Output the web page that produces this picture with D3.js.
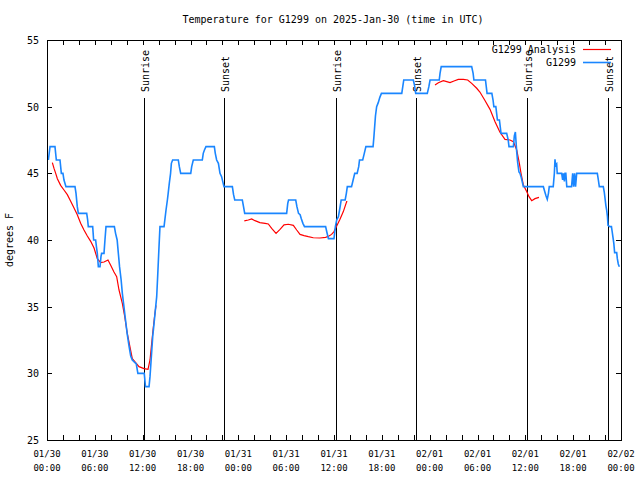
<!DOCTYPE html>
<html>
<head>
<meta charset="utf-8">
<script src="https://cdn.jsdelivr.net/npm/d3@7"></script>
<style>
  html, body { margin: 0; padding: 0; background: #fff; }
  svg { display: block; }
  text { font-family: "DejaVu Sans Mono", monospace; fill: #000; }
</style>
</head>
<body>
<svg id="chart" width="640" height="480"></svg>
<script>
// ---------------- data (hours since 2025-01-30 00:00 UTC, degrees F) ----------------
const titleText = "Temperature for G1299 on 2025-Jan-30 (time in UTC)";
const yLabel = "degrees F";
const seriesNames = ["G1299 Analysis", "G1299"];
const yTicks = [25, 30, 35, 40, 45, 50, 55];
const xTickHours = [0, 6, 12, 18, 24, 30, 36, 42, 48, 54, 60, 66, 72];
const sunEvents = [
  ["Sunrise", 12.17], ["Sunset", 22.2], ["Sunrise", 36.25],
  ["Sunset", 46.29], ["Sunrise", 60.2], ["Sunset", 70.37]
];

const observed = [
  [0.17,46],[0.38,47],[1.0,47],[1.17,46],[1.63,46],[1.8,45],[2.0,45],[2.13,44.5],[2.38,44],[3.51,44],
  [3.64,43.5],[3.8,42.5],[3.93,42],[4.98,42],[5.1,41.5],[5.18,41],[5.73,41],[5.85,40],[6.1,40],[6.2,39.5],
  [6.31,39],[6.44,38],[6.65,38],[6.77,38.75],[6.85,39],[7.15,39],[7.27,40],[7.4,41],[8.45,41],[8.6,40.5],
  [8.8,40],[8.95,39],[9.1,38],[9.3,37],[9.45,36],[9.65,35],[9.85,34],[10.05,33],[10.3,32],[10.5,31.3],
  [10.7,31],[11.2,30.7],[11.4,30],[12.2,30],[12.35,29],[12.8,29],[12.92,29.75],[13.09,31.25],[13.26,32.75],
  [13.43,33.75],[13.55,34.5],[13.76,35.75],[13.9,37.5],[14.05,39.5],[14.17,41],[14.68,41],[14.93,42.25],
  [15.1,43],[15.2,43.5],[15.34,44.25],[15.5,45],[15.6,45.75],[15.76,46],[16.47,46],[16.6,45.5],[16.77,45],
  [18.03,45],[18.15,45.5],[18.35,46],[19.48,46],[19.6,46.5],[19.75,46.75],[19.94,47],[20.99,47],[21.11,46.5],
  [21.28,46],[21.5,45.75],[21.7,45],[21.9,44.75],[22.04,44.4],[22.2,44],[23.25,44],[23.4,43.4],[23.55,43],
  [24.5,43],[24.65,42.5],[24.8,42],[30.06,42],[30.2,42.75],[30.3,43],[31.2,43],[31.35,42.5],[31.55,42],
  [31.75,41.9],[31.9,41.6],[32.1,41.25],[32.3,41],[34.95,41],[35.1,40.6],[35.3,40.1],[36.0,40.1],[36.17,41],
  [36.34,41.5],[36.55,41.75],[36.7,42.25],[36.9,43],[37.4,43],[37.55,43.5],[37.67,44],[38.2,44],[38.4,44.5],
  [38.6,45],[38.9,45],[39.1,45.5],[39.2,46],[39.6,46],[39.8,46.5],[40.0,47],[40.9,47],[41.0,47.7],[41.1,48.5],
  [41.2,49.3],[41.35,50],[41.55,50.3],[41.75,50.7],[41.95,51],[44.5,51],[44.65,51.6],[44.75,52],[45.95,52],
  [46.1,51.6],[46.25,51],[47.7,51],[47.9,51.5],[48.05,52],[49.2,52],[49.3,52.5],[49.45,53],[53.27,53],
  [53.45,52.5],[53.55,52],[55.0,52],[55.1,51.5],[55.2,51],[55.8,51],[55.95,50.5],[56.05,50],[56.3,50],
  [56.4,49.5],[56.5,49],[56.75,49],[56.85,48.5],[56.95,48],[57.66,48],[57.85,47.5],[57.95,47],[58.5,47],
  [58.62,47.8],[58.75,48.1],[58.83,47.4],[58.92,46.6],[59.04,45.8],[59.2,45.1],[59.33,45],[59.46,44.75],
  [59.6,44.4],[59.75,44],[62.26,44],[62.45,43.6],[62.6,43.3],[62.75,43.05],[62.9,43.5],[63.0,44],[63.5,44],
  [63.64,45],[63.72,46.05],[63.8,45.6],[63.93,45.7],[64.0,45],[64.56,45],[64.68,44.5],[64.77,45],[64.9,44.4],
  [64.98,45],[65.08,45],[65.2,44],[65.8,44],[65.94,45],[66.06,44],[66.18,45],[66.3,44],[66.44,45],[69.03,45],
  [69.16,44.5],[69.28,44],[69.78,44],[69.9,43.6],[70.0,43.1],[70.1,42.6],[70.2,42.25],[70.3,41.75],[70.37,41.1],
  [70.6,41],[70.8,41],[70.9,40.6],[70.98,40.25],[71.1,39.75],[71.2,39.05],[71.46,39.05],[71.54,38.6],
  [71.66,38.2],[71.79,38.0]
];

const analysisA = [
  [0.67,45.8],[0.88,45.37],[1.09,45.0],[1.3,44.6],[1.71,44.1],[2.13,43.75],[2.55,43.4],[2.97,42.9],
  [3.39,42.4],[3.8,41.9],[4.22,41.25],[4.64,40.75],[5.06,40.3],[5.48,39.9],[5.9,39.4],[6.31,38.6],
  [6.73,38.3],[7.15,38.35],[7.65,38.5],[7.99,38.1],[8.4,37.6],[8.74,37.25],[9.03,36.25],[9.45,35.25],
  [9.75,34.25],[10.07,33.0],[10.4,32.0],[10.7,31.1],[11.12,30.8],[11.54,30.5],[12.17,30.35],[12.67,30.3],
  [12.92,31.0],[13.09,32.0],[13.3,33.25],[13.5,34.3],[13.67,35.1]
];
const analysisB = [
  [24.75,41.43],[25.25,41.5],[25.67,41.58],[26.09,41.45],[26.7,41.3],[27.35,41.25],[27.76,41.2],
  [28.18,40.87],[28.73,40.5],[29.23,40.8],[29.73,41.13],[30.27,41.18],[30.9,41.1],[31.32,40.75],
  [31.74,40.42],[32.24,40.33],[32.78,40.25],[33.4,40.17],[34.24,40.15],[34.95,40.2],[35.37,40.3],
  [35.7,40.42],[36.0,40.63],[36.34,41.05],[36.75,41.55],[37.17,42.13],[37.59,42.88],[37.67,42.88]
];
const analysisC = [
  [48.67,51.63],[49.09,51.8],[49.71,51.95],[50.14,51.88],[50.55,51.8],[51.05,51.93],[51.59,52.05],
  [52.22,52.05],[52.77,52.0],[53.27,51.75],[53.9,51.38],[54.3,51.1],[54.9,50.5],[55.57,49.8],
  [56.2,48.87],[56.8,48.1],[57.45,47.55],[58.07,47.5],[58.5,47.38],[58.92,46.75],[59.25,45.75],
  [59.46,45.0],[59.75,44.13],[60.17,43.63],[60.46,43.25],[60.8,42.95],[61.21,43.1],[61.71,43.2]
];
const analysisSegments = [analysisA, analysisB, analysisC];

// ---------------- layout ----------------
const W = 640, H = 480;
const m = { left: 47, right: 19, top: 40, bottom: 40 };
const pw = W - m.left - m.right, ph = H - m.top - m.bottom;
const start = Date.UTC(2025, 0, 30, 0, 0);
const hToDate = h => new Date(start + h * 3600 * 1000);

const svg = d3.select("#chart");
const x = d3.scaleUtc().domain([hToDate(0), hToDate(72)]).range([m.left, m.left + pw]);
const y = d3.scaleLinear().domain([25, 55]).range([m.top + ph, m.top]);

const blue = "#1a86ff", red = "#ff0000";

// title
svg.append("text").attr("x", 333).attr("y", 23).attr("text-anchor", "middle")
  .style("font-size", "10px").text(titleText);

// y label
svg.append("text").attr("transform", `translate(13,${m.top + ph / 2}) rotate(-90)`)
  .attr("text-anchor", "middle").style("font-size", "10px").text(yLabel);

// ticks (every 2 h minor, labels every 6 h)
const minorHours = d3.range(0, 73, 2);
const tickG = svg.append("g").attr("stroke", "#000").attr("stroke-width", 1).attr("shape-rendering", "crispEdges");
minorHours.forEach(h => {
  const xx = Math.round(x(hToDate(h))) + 0.5;
  tickG.append("line").attr("x1", xx).attr("x2", xx).attr("y1", m.top + ph).attr("y2", m.top + ph - 5);
  tickG.append("line").attr("x1", xx).attr("x2", xx).attr("y1", m.top).attr("y2", m.top + 5);
});
yTicks.forEach(v => {
  const yy = Math.round(y(v)) + 0.5;
  tickG.append("line").attr("x1", m.left).attr("x2", m.left + 5).attr("y1", yy).attr("y2", yy);
  tickG.append("line").attr("x1", m.left + pw).attr("x2", m.left + pw - 5).attr("y1", yy).attr("y2", yy);
  svg.append("text").attr("x", 39).attr("y", y(v) + 4).attr("text-anchor", "end")
    .style("font-size", "10px").text(v);
});
const fmtD = d3.utcFormat("%m/%d"), fmtT = d3.utcFormat("%H:%M");
xTickHours.forEach(h => {
  const d = hToDate(h);
  const t = svg.append("text").attr("text-anchor", "middle").style("font-size", "9px");
  t.append("tspan").attr("x", x(d)).attr("y", m.top + ph + 17).text(fmtD(d));
  t.append("tspan").attr("x", x(d)).attr("y", m.top + ph + 31).text(fmtT(d));
});

// sunrise / sunset lines
sunEvents.forEach(([name, h]) => {
  const xx = Math.round(x(hToDate(h))) + 0.5;
  svg.append("line").attr("x1", xx).attr("x2", xx).attr("y1", m.top + 58).attr("y2", m.top + ph)
    .attr("stroke", "#000").attr("stroke-width", 1).attr("shape-rendering", "crispEdges");
  svg.append("text").attr("transform", `translate(${xx + 4},${m.top + 52}) rotate(-90)`)
    .style("font-size", "10px").text(name);
});

// lines
const line = d3.line().x(d => x(hToDate(d[0]))).y(d => y(d[1]));
analysisSegments.forEach(seg => {
  svg.append("path").datum(seg).attr("d", line).attr("fill", "none")
    .attr("stroke", red).attr("stroke-width", 1.2);
});
svg.append("path").datum(observed).attr("d", line).attr("fill", "none")
  .attr("stroke", blue).attr("stroke-width", 1.6).attr("stroke-linejoin", "miter");

// frame
svg.append("rect").attr("x", m.left + 0.5).attr("y", m.top + 0.5).attr("width", pw).attr("height", ph)
  .attr("fill", "none").attr("stroke", "#000").attr("stroke-width", 1).attr("shape-rendering", "crispEdges");

// legend
const lg = [[seriesNames[0], red, 49], [seriesNames[1], blue, 62]];
lg.forEach(([name, col, yy]) => {
  svg.append("text").attr("x", 576).attr("y", yy + 4).attr("text-anchor", "end")
    .style("font-size", "10px").text(name);
  svg.append("line").attr("x1", 583).attr("x2", 611).attr("y1", yy + 0.5).attr("y2", yy + 0.5)
    .attr("stroke", col).attr("stroke-width", col === blue ? 1.6 : 1.2);
});
</script>
</body>
</html>
